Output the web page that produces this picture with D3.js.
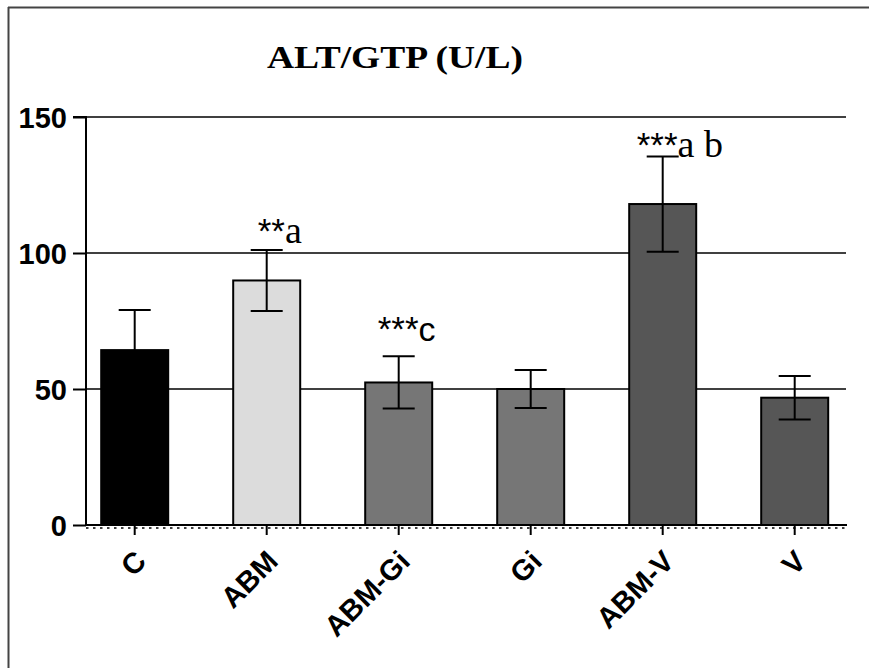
<!DOCTYPE html>
<html>
<head>
<meta charset="utf-8">
<script src="https://cdn.jsdelivr.net/npm/d3@7"></script>
<style>
  html, body { margin: 0; padding: 0; background: #fff; }
  svg { display: block; }
</style>
</head>
<body>
<svg id="chart" width="869" height="669"></svg>
<script>
// ---- data ----
const categories = ["C", "ABM", "ABM-Gi", "Gi", "ABM-V", "V"];
const means = [64.3, 89.9, 52.4, 50.0, 118.0, 46.8];
const errors = [14.7, 11.2, 9.6, 7.0, 17.5, 8.0];
const barColors = ["#000000", "#dcdcdc", "#767676", "#767676", "#565656", "#565656"];
const yTicks = [0, 50, 100, 150];
const gridValues = [50, 100, 150];
const title = "ALT/GTP (U/L)";
// annotation parts
const annStars = ["", "**", "***", "", "***", ""];
const annLetters = ["", "a", "c", "", "a b", ""];
const annLetterSerif = [false, true, false, false, true, false];

// ---- layout ----
const svg = d3.select("#chart");
const W = 869, H = 669;
const x = d3.scaleBand().domain(categories).range([68.7, 860.7]).paddingInner(0.4924).paddingOuter(0.2462);
const y = d3.scaleLinear().domain([0, 150]).range([525, 117]);
const axisX0 = 86, axisX1 = 847;

// outer frame (top and left edges)
svg.append("line").attr("x1", 8).attr("x2", W).attr("y1", 7.5).attr("y2", 7.5)
  .attr("stroke", "#444").attr("stroke-width", 2);
svg.append("line").attr("x1", 8.5).attr("x2", 8.5).attr("y1", 7).attr("y2", 668)
  .attr("stroke", "#444").attr("stroke-width", 2);

// title
svg.append("text").attr("x", 267).attr("y", 68)
  .attr("font-family", "'Liberation Serif', 'Times New Roman', serif")
  .attr("font-weight", "bold").attr("font-size", 31)
  .attr("textLength", 256).attr("lengthAdjust", "spacingAndGlyphs")
  .text(title);

// gridlines
svg.append("g").selectAll("line").data(gridValues).join("line")
  .attr("x1", axisX0).attr("x2", axisX1 - 1)
  .attr("y1", d => y(d)).attr("y2", d => y(d))
  .attr("stroke", "#000").attr("stroke-width", 1.6);

// y axis
const yAxis = d3.axisLeft(y).tickValues(yTicks).tickSize(13).tickPadding(6).tickFormat(d3.format("d"));
const gy = svg.append("g").attr("transform", `translate(${axisX0},0)`).call(yAxis);
gy.select(".domain").attr("stroke", "#000").attr("stroke-width", 2).attr("d", `M-13,${y(150)}H0V${y(0)}`);
gy.selectAll(".tick line").attr("stroke", "#000").attr("stroke-width", 2);
gy.selectAll(".tick text")
  .attr("font-family", "'Liberation Sans', Arial, sans-serif")
  .attr("font-weight", "bold").attr("font-size", 29).attr("fill", "#000")
  .attr("dy", "0.36em");

// bars
svg.append("g").selectAll("rect").data(categories).join("rect")
  .attr("x", d => x(d)).attr("width", x.bandwidth())
  .attr("y", (d, i) => y(means[i])).attr("height", (d, i) => y(0) - y(means[i]))
  .attr("fill", (d, i) => barColors[i])
  .attr("stroke", "#000").attr("stroke-width", 2);

// error bars
const eb = svg.append("g").attr("stroke", "#000").attr("stroke-width", 2);
categories.forEach((c, i) => {
  const cx = x(c) + x.bandwidth() / 2;
  const top = y(means[i] + errors[i]), bot = y(means[i] - errors[i]);
  eb.append("line").attr("x1", cx).attr("x2", cx).attr("y1", top).attr("y2", bot);
  eb.append("line").attr("x1", cx - 16).attr("x2", cx + 16).attr("y1", top).attr("y2", top);
  eb.append("line").attr("x1", cx - 16).attr("x2", cx + 16).attr("y1", bot).attr("y2", bot);
});

// x axis
const xAxis = d3.axisBottom(x).tickSize(10).tickPadding(4);
const gx = svg.append("g").attr("transform", `translate(0,${y(0)})`).call(xAxis);
gx.select(".domain").attr("stroke", "#000").attr("stroke-width", 2).attr("d", `M${axisX0},0H${axisX1}`);
gx.selectAll(".tick line").attr("stroke", "#000").attr("stroke-width", 2);
gx.selectAll(".tick text")
  .attr("font-family", "'Liberation Sans', Arial, sans-serif")
  .attr("font-weight", "bold").attr("font-size", 29).attr("fill", "#000")
  .attr("text-anchor", "end")
  .attr("transform", "translate(13,38) rotate(-45)")
  .attr("x", 0).attr("y", 0).attr("dy", 0);
// dotted line under the x axis
svg.append("line").attr("x1", axisX0).attr("x2", axisX1).attr("y1", y(0) + 3).attr("y2", y(0) + 3)
  .attr("stroke", "#000").attr("stroke-width", 1.5).attr("stroke-dasharray", "2.5,4.5");

// annotations
const annLayout = [null, {dx: -9, dy: -7}, {dx: -21, dy: -15}, null, {dx: -26, dy: 1}, null];
categories.forEach((c, i) => {
  if (!annStars[i]) return;
  const cx = x(c) + x.bandwidth() / 2;
  const top = y(means[i] + errors[i]);
  const t = svg.append("text").attr("x", cx + annLayout[i].dx).attr("y", top + annLayout[i].dy)
    .attr("fill", "#000");
  t.append("tspan").attr("font-family", "'Liberation Sans', Arial, sans-serif")
    .attr("font-size", 35).text(annStars[i]);
  t.append("tspan")
    .attr("font-family", annLetterSerif[i] ? "'Liberation Serif', 'Times New Roman', serif" : "'Liberation Sans', Arial, sans-serif")
    .attr("font-size", annLetterSerif[i] ? 38 : 34)
    .style("white-space", "pre")
    .text(annLetters[i]);
});
</script>
</body>
</html>
